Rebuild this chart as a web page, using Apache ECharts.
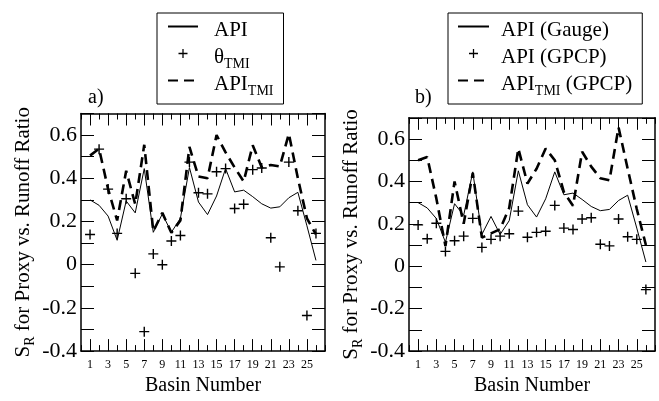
<!DOCTYPE html>
<html><head><meta charset="utf-8">
<script src="https://cdn.jsdelivr.net/npm/echarts@6/dist/echarts.min.js"></script>
<style>html,body{margin:0;padding:0;background:#fff}#c{width:659px;height:401px}</style>
</head><body><div id="c"></div>
<script>
// ---- data ----
const basins = [1,2,3,4,5,6,7,8,9,10,11,12,13,14,15,16,17,18,19,20,21,22,23,24,25,26];
const apiGauge = [0.30,0.275,0.225,0.113,0.295,0.24,0.445,0.15,0.235,0.15,0.215,0.45,0.29,0.232,0.318,0.445,0.337,0.345,0.315,0.282,0.262,0.268,0.31,0.335,0.18,0.02];
const thetaTMI = [0.14,0.535,0.35,0.145,0.305,-0.04,-0.31,0.05,0.0,0.11,0.135,0.475,0.333,0.328,0.43,0.445,0.26,0.28,0.44,0.448,0.125,-0.01,0.475,0.25,-0.235,0.145];
const apiTMI = [0.505,0.537,0.35,0.205,0.435,0.28,0.555,0.155,0.24,0.148,0.205,0.545,0.408,0.40,0.60,0.52,0.45,0.385,0.553,0.45,0.462,0.455,0.606,0.40,0.215,0.14];
const apiGPCP = [0.195,0.13,0.203,0.07,0.12,0.142,0.226,0.089,0.127,0.142,0.153,0.26,0.137,0.16,0.165,0.287,0.18,0.173,0.223,0.229,0.104,0.096,0.223,0.139,0.127,-0.11];
const apiTMIGPCP = [0.50,0.515,0.32,0.095,0.40,0.20,0.44,0.135,0.155,0.175,0.275,0.555,0.39,0.46,0.555,0.50,0.35,0.285,0.54,0.47,0.415,0.405,0.655,0.46,0.27,0.10];
const xTickLabels = [1,3,5,7,9,11,13,15,17,19,21,23,25];
const yTickLabels = [-0.4,-0.2,0,0.2,0.4,0.6];

// ---- chart ----
const F = 'Liberation Serif';
const K = '#000';
const pairs = arr => basins.map((b,i)=>[b, arr[i]]);
const plus = 'path://M4.3,0h1.4v4.3h4.3v1.4h-4.3v4.3h-1.4v-4.3h-4.3v-1.4h4.3z';

const richLegend = padL => ({
  f:{fontFamily:F,fontSize:21,lineHeight:21,color:K,verticalAlign:'top',padding:[4,0,4,padL]},
  m:{fontFamily:F,fontSize:21,lineHeight:21,color:K,verticalAlign:'top',padding:[4,0,4,0]},
  s:{fontFamily:F,fontSize:14,lineHeight:14,color:K,verticalAlign:'top',padding:[14,0,0,0]}
});
const richName = {
  m:{fontFamily:F,fontSize:21,lineHeight:21,color:K,verticalAlign:'top',padding:[4,0,4,0]},
  s:{fontFamily:F,fontSize:14,lineHeight:14,color:K,verticalAlign:'top',padding:[14,0,0,0]}
};
const legendText = {
  'API':'{f|API}',
  'θTMI':'{f|θ}{s|TMI}',
  'APITMI':'{f|API}{s|TMI}',
  'API (Gauge)':'{f|API (Gauge)}',
  'API (GPCP)':'{f|API (GPCP)}',
  'APITMI (GPCP)':'{f|API}{s|TMI}{m| (GPCP)}'
};

const grids = [
  {left:81, top:113.5, width:244, height:244.5},
  {left:409, top:117.8, width:246, height:240.2}
];
const nameGaps = [42, 40];

const xAxes = [], yAxes = [];
grids.forEach((g,gi)=>{
  const base = {gridIndex:gi, type:'value', min:0, max:27, splitLine:{show:false}};
  xAxes.push(Object.assign({}, base, {position:'bottom', interval:1,
    axisLine:{show:true,onZero:false,lineStyle:{color:K,width:1.5}},
    axisTick:{inside:true,length:6,lineStyle:{color:K,width:1}},
    axisLabel:{customValues:xTickLabels,fontFamily:F,fontSize:12,color:K,margin:8},
    name:'Basin Number', nameLocation:'middle', nameGap:20,
    nameTextStyle:{fontFamily:F,fontSize:20,color:K}}));
  xAxes.push(Object.assign({}, base, {position:'bottom',
    axisLine:{show:false,onZero:false},
    axisTick:{inside:true,length:12,customValues:xTickLabels,lineStyle:{color:K,width:1}},
    axisLabel:{show:false}}));
  xAxes.push(Object.assign({}, base, {position:'top', interval:1,
    axisLine:{show:true,onZero:false,lineStyle:{color:K,width:1.5}},
    axisTick:{inside:true,length:6,lineStyle:{color:K,width:1}},
    axisLabel:{show:false}}));
  xAxes.push(Object.assign({}, base, {position:'top',
    axisLine:{show:false,onZero:false},
    axisTick:{inside:true,length:12,customValues:xTickLabels,lineStyle:{color:K,width:1}},
    axisLabel:{show:false}}));
  const ybase = {gridIndex:gi, type:'value', min:-0.4, max:0.7, interval:0.1, splitLine:{show:false}};
  yAxes.push(Object.assign({}, ybase, {position:'left',
    axisLine:{show:true,onZero:false,lineStyle:{color:K,width:1.5}},
    axisTick:{inside:true,length:13,lineStyle:{color:K,width:1}},
    axisLabel:{customValues:yTickLabels,fontFamily:F,fontSize:22,color:K,margin:4,
      formatter:v=>String(Math.round(v*10)/10)},
    name:'{m|S}{s|R}{m| for Proxy vs. Runoff Ratio}', nameLocation:'middle', nameGap:nameGaps[gi],
    nameTextStyle:{fontFamily:F,fontSize:21,color:K,rich:richName}}));
  yAxes.push(Object.assign({}, ybase, {position:'right',
    axisLine:{show:true,onZero:false,lineStyle:{color:K,width:1.5}},
    axisTick:{inside:true,length:13,lineStyle:{color:K,width:1}},
    axisLabel:{show:false}}));
});

const solid = (name,arr,gi)=>({name,type:'line',data:pairs(arr),xAxisIndex:gi*4,yAxisIndex:gi*2,
  symbol:'none',lineStyle:{color:K,width:1},itemStyle:{color:K}});
const dashed = (name,arr,gi)=>({name,type:'line',data:pairs(arr),xAxisIndex:gi*4,yAxisIndex:gi*2,
  symbol:'none',lineStyle:{color:K,width:2.6,type:[10,6]},itemStyle:{color:K}});
const cross = (name,arr,gi)=>({name,type:'scatter',data:pairs(arr),xAxisIndex:gi*4,yAxisIndex:gi*2,
  symbol:plus,symbolSize:10,symbolKeepAspect:true,itemStyle:{color:K,opacity:1}});

const noDot = {color:'rgba(0,0,0,0)',borderWidth:0,opacity:0};
const legendBase = {orient:'vertical',top:13,itemHeight:9,itemGap:-2,
  borderColor:K,borderWidth:1,selectedMode:false,
  formatter:n=>legendText[n]};

const option = {
  animation:false,
  backgroundColor:'#fff',
  title:[
    {text:'a)',left:88,top:88,padding:0,textStyle:{fontFamily:F,fontSize:20,fontWeight:'normal',color:K}},
    {text:'b)',left:415,top:88,padding:0,textStyle:{fontFamily:F,fontSize:20,fontWeight:'normal',color:K}}
  ],
  legend:[
    Object.assign({}, legendBase, {left:157,itemWidth:30,padding:[3,10,5,10],
      data:[{name:'API',itemStyle:noDot},{name:'θTMI',itemStyle:{opacity:1}},{name:'APITMI',itemStyle:noDot}],
      textStyle:{rich:richLegend(11)}}),
    Object.assign({}, legendBase, {left:448,itemWidth:31,padding:[3,10,5,9],
      data:[{name:'API (Gauge)',itemStyle:noDot},{name:'API (GPCP)',itemStyle:{opacity:1}},{name:'APITMI (GPCP)',itemStyle:noDot}],
      textStyle:{rich:richLegend(7)}})
  ],
  grid:grids,
  xAxis:xAxes,
  yAxis:yAxes,
  series:[
    solid('API',apiGauge,0),
    cross('θTMI',thetaTMI,0),
    dashed('APITMI',apiTMI,0),
    solid('API (Gauge)',apiGauge,1),
    cross('API (GPCP)',apiGPCP,1),
    dashed('APITMI (GPCP)',apiTMIGPCP,1)
  ]
};
const chart = echarts.init(document.getElementById('c'),null,{renderer:'canvas'});
chart.setOption(option);
</script></body></html>
